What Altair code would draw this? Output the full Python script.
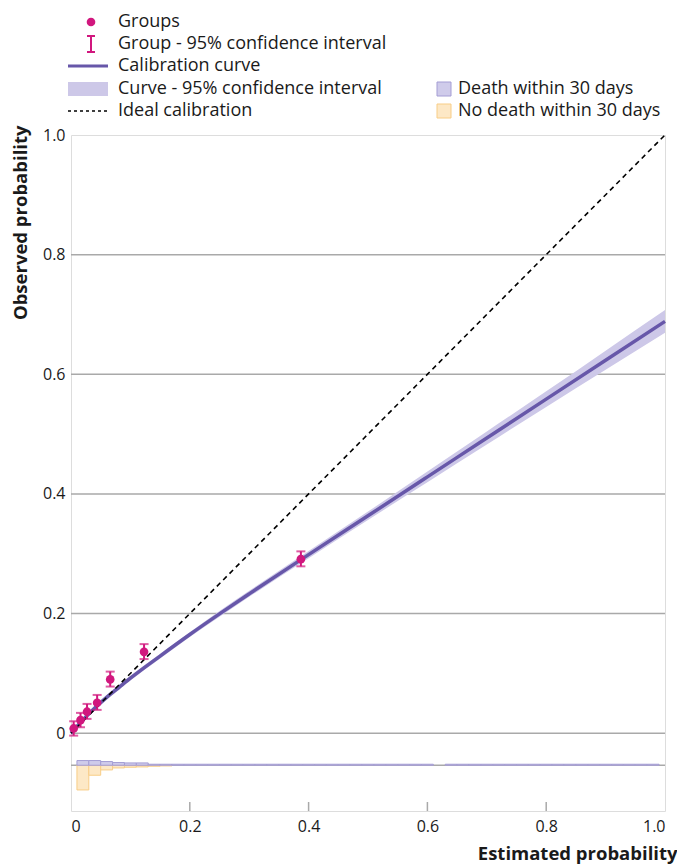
import altair as alt
import pandas as pd

FONT = "Open Sans"
MAG = "#d1177e"
PURPLE = "#6757a9"
BAND = "#cdc8e8"
GRID = "#a9a9a9"
TXT = "#1a1a1a"

# ---- grouped observations (estimated vs observed) ----
grp_est = [0.0045, 0.016, 0.027, 0.044, 0.066, 0.123, 0.387]
grp_obs = [0.008, 0.022, 0.036, 0.051, 0.090, 0.136, 0.291]
grp_lo = [-0.004, 0.010, 0.024, 0.039, 0.078, 0.124, 0.279]
grp_hi = [0.020, 0.034, 0.049, 0.064, 0.103, 0.149, 0.304]

# ---- calibration curve and its 95% CI ----
curve_est = [0.0, 0.02, 0.04, 0.06, 0.08, 0.10, 0.15, 0.20, 0.25, 0.30,
             0.40, 0.50, 0.60, 0.70, 0.80, 0.90, 1.00]
curve_obs = [0.000, 0.022, 0.042, 0.060, 0.076, 0.092, 0.129, 0.165, 0.1995, 0.233,
             0.2985, 0.3635, 0.4285, 0.4935, 0.5585, 0.6235, 0.6885]
curve_lo = [-0.004, 0.018, 0.038, 0.056, 0.072, 0.088, 0.125, 0.161, 0.1945, 0.228,
            0.2925, 0.3565, 0.4195, 0.4825, 0.5455, 0.6075, 0.6695]
curve_hi = [0.004, 0.026, 0.046, 0.064, 0.080, 0.096, 0.133, 0.169, 0.2045, 0.238,
            0.3045, 0.3705, 0.4375, 0.5045, 0.5715, 0.6395, 0.7075]

# ---- ideal calibration ----
ideal_est = [0.0, 1.0]
ideal_obs = [0.0, 1.0]

# ---- histograms of estimated probability (relative frequency, arbitrary units) ----
bin_start = [round(0.01 + 0.02 * i, 2) for i in range(49)]
death_freq = ([4.7, 4.7, 3.7, 2.7, 2.3, 2.3] + [1.0] * 24 + [0.0] + [1.0] * 18)
nodeath_freq = [24.7, 10.0, 4.7, 2.7, 2.0, 1.7, 1.0, 0.7] + [0.0] * 41

HIST_BASE = -0.0535
HIST_UNIT = 1.0 / 598.0

x_ticks = [0.0, 0.2, 0.4, 0.6, 0.8, 1.0]
y_ticks = [0.0, 0.2, 0.4, 0.6, 0.8, 1.0]
grid_vals = [0.0, 0.2, 0.4, 0.6, 0.8]
inner_ticks = [0.2, 0.4, 0.6, 0.8]

legend_left = ["Groups", "Group - 95% confidence interval", "Calibration curve",
               "Curve - 95% confidence interval", "Ideal calibration"]
legend_right = ["Death within 30 days", "No death within 30 days"]

# ---------------------------------------------------------------
label_expr = "datum.value == 0 ? '0' : format(datum.value, '.1f')"
XSC = alt.Scale(domain=[0, 1], nice=False, zero=False)
YSC = alt.Scale(domain=[-0.13, 1.0], nice=False, zero=False)
XAX = alt.Axis(values=x_ticks, labelExpr=label_expr, ticks=False, domain=False, grid=False,
               labelFontSize=16, labelPadding=7, labelColor=TXT, labelFont=FONT,
               title="Estimated probability", titleFont=FONT, titleFontSize=18.5,
               titleFontWeight="bold", titleColor=TXT, titleAnchor="end", titleAlign="right",
               titleX=606, titleY=42, titleBaseline="middle")
YAX = alt.Axis(values=y_ticks, labelExpr=label_expr, ticks=False, domain=False, grid=False,
               labelFontSize=16, labelPadding=6, labelColor=TXT, labelFont=FONT,
               title="Observed probability", titleFont=FONT, titleFontSize=18.5,
               titleFontWeight="bold", titleColor=TXT, titleAngle=-90, titleAnchor="end",
               titleAlign="right", titleX=-51, titleY=-10, titleBaseline="middle")


def X(field="x"):
    return alt.X(f"{field}:Q", scale=XSC, axis=XAX, title="Estimated probability")


def Y(field="y"):
    return alt.Y(f"{field}:Q", scale=YSC, axis=YAX, title="Observed probability")


grid_df = pd.DataFrame({"y": grid_vals + [HIST_BASE]})
grid = alt.Chart(grid_df).mark_rule(color=GRID, strokeWidth=1.5).encode(y=Y())

tick_df = pd.DataFrame({"x": inner_ticks, "y": [-0.13] * 4, "y2": [-0.115] * 4})
ticks = alt.Chart(tick_df).mark_rule(color=GRID, strokeWidth=1.5).encode(
    x=X(), y=Y(), y2="y2:Q")

hist_df = pd.DataFrame({"x": bin_start, "death": death_freq, "nodeath": nodeath_freq})
hist_df["x2"] = hist_df["x"] + 0.02
hist_df["base"] = HIST_BASE
hist_df["d_top"] = HIST_BASE + hist_df["death"] * HIST_UNIT
hist_df["n_bot"] = HIST_BASE - hist_df["nodeath"] * HIST_UNIT
nd_df = hist_df[hist_df["nodeath"] > 0]
hist_nodeath = alt.Chart(nd_df).mark_rect(fill="#fde8c6", stroke="#f8cd86", strokeWidth=1).encode(
    x=X(), x2="x2:Q", y=alt.Y("n_bot:Q", scale=YSC, axis=YAX, title="Observed probability"),
    y2="base:Q")
d_df = hist_df[hist_df["death"] > 0]
hist_death = alt.Chart(d_df).mark_rect(fill="#cfcbea", stroke="#a49dd4", strokeWidth=1).encode(
    x=X(), x2="x2:Q", y=alt.Y("d_top:Q", scale=YSC, axis=YAX, title="Observed probability"),
    y2="base:Q")

curve_df = pd.DataFrame({"x": curve_est, "y": curve_obs, "lo": curve_lo, "hi": curve_hi})
band = alt.Chart(curve_df).mark_area(color=BAND, opacity=1, interpolate="monotone").encode(
    x=X(), y=alt.Y("lo:Q", scale=YSC, axis=YAX, title="Observed probability"), y2="hi:Q")
line = alt.Chart(curve_df).mark_line(color=PURPLE, strokeWidth=3.5, interpolate="monotone").encode(
    x=X(), y=Y())

ideal_df = pd.DataFrame({"x": ideal_est, "y": ideal_obs})
ideal = alt.Chart(ideal_df).mark_line(color="black", strokeWidth=1.6, strokeDash=[5, 4]).encode(
    x=X(), y=Y())

grp_df = pd.DataFrame({"x": grp_est, "y": grp_obs, "lo": grp_lo, "hi": grp_hi})
err = alt.Chart(grp_df).mark_rule(color=MAG, strokeWidth=2).encode(
    x=X(), y=alt.Y("lo:Q", scale=YSC, axis=YAX, title="Observed probability"), y2="hi:Q")
cap_lo = alt.Chart(grp_df).mark_tick(color=MAG, thickness=2, size=9, orient="horizontal").encode(
    x=X(), y=alt.Y("lo:Q", scale=YSC, axis=YAX, title="Observed probability"))
cap_hi = alt.Chart(grp_df).mark_tick(color=MAG, thickness=2, size=9, orient="horizontal").encode(
    x=X(), y=alt.Y("hi:Q", scale=YSC, axis=YAX, title="Observed probability"))
pts = alt.Chart(grp_df).mark_circle(color=MAG, size=75, opacity=1).encode(x=X(), y=Y())

# ---- legend (drawn above the plot area) ----
one = pd.DataFrame({"a": [0]})
leg_rows_y = [-113, -91, -69, -46, -24]
leg_txt_df = pd.DataFrame({
    "lx": [47] * 5 + [387] * 2,
    "ly": leg_rows_y + leg_rows_y[3:],
    "label": legend_left + legend_right,
})
leg_text = alt.Chart(leg_txt_df).mark_text(
    align="left", baseline="middle", fontSize=18, font=FONT, color=TXT).encode(
    x=alt.X("lx:Q", scale=None), y=alt.Y("ly:Q", scale=None), text="label:N")
leg_pt = alt.Chart(one).mark_circle(color=MAG, size=75, opacity=1).encode(
    x=alt.value(20), y=alt.value(-113))
leg_eb = alt.Chart(one).mark_rule(color=MAG, strokeWidth=2).encode(
    x=alt.value(20), y=alt.value(-99), y2=alt.value(-83))
leg_eb_c1 = alt.Chart(one).mark_rule(color=MAG, strokeWidth=2).encode(
    x=alt.value(16), x2=alt.value(24), y=alt.value(-99))
leg_eb_c2 = alt.Chart(one).mark_rule(color=MAG, strokeWidth=2).encode(
    x=alt.value(16), x2=alt.value(24), y=alt.value(-83))
leg_line = alt.Chart(one).mark_rule(color=PURPLE, strokeWidth=3).encode(
    x=alt.value(-3), x2=alt.value(37), y=alt.value(-69))
leg_band = alt.Chart(one).mark_rect(color=BAND).encode(
    x=alt.value(-3), x2=alt.value(37), y=alt.value(-53), y2=alt.value(-39))
leg_dash = alt.Chart(one).mark_rule(color="black", strokeWidth=1.4, strokeDash=[3, 3]).encode(
    x=alt.value(-3), x2=alt.value(37), y=alt.value(-24))
leg_sq1 = alt.Chart(one).mark_rect(fill="#cfcbea", stroke="#a49dd4", strokeWidth=1).encode(
    x=alt.value(366), x2=alt.value(380), y=alt.value(-53), y2=alt.value(-39))
leg_sq2 = alt.Chart(one).mark_rect(fill="#fde8c6", stroke="#f8cd86", strokeWidth=1).encode(
    x=alt.value(366), x2=alt.value(380), y=alt.value(-31), y2=alt.value(-17))

chart = alt.layer(
    grid, ticks, hist_nodeath, hist_death, band, line, ideal, err, cap_lo, cap_hi, pts,
    leg_text, leg_pt, leg_eb, leg_eb_c1, leg_eb_c2, leg_line, leg_band, leg_dash, leg_sq1, leg_sq2,
).properties(
    width=594, height=676,
    padding={"left": 2, "top": 5, "right": 0, "bottom": 3},
).configure_view(
    stroke="#ababab", strokeWidth=1.5, cornerRadius=10,
).configure(font=FONT)

chart.save("out.html", embed_options={"renderer": "svg", "actions": False})
